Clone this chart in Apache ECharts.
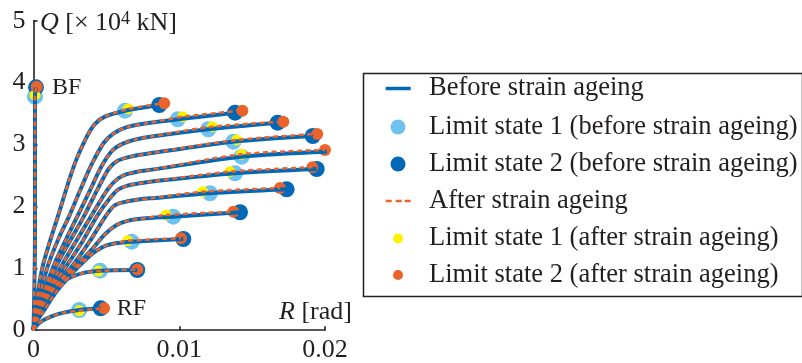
<!DOCTYPE html>
<html>
<head>
<meta charset="utf-8">
<script src="https://cdn.jsdelivr.net/npm/echarts@6/dist/echarts.min.js"></script>
<style>
  html, body { margin: 0; padding: 0; background: #fff; }
  #chart { width: 802px; height: 363px; }
</style>
</head>
<body>
<div id="chart"></div>
<script>
// R [rad] vs Q [x10^4 kN], frames from RF (bottom) to BF (top)
const curveBodies = [
  [[0, 0], [0.0002, 0.07], [0.0006, 0.15], [0.0012, 0.22], [0.002, 0.28]],
  [[0, 0], [0.00017, 0.19], [0.0006, 0.38], [0.0011, 0.58], [0.0018, 0.75], [0.0026, 0.86], [0.0035, 0.93]],
  [[0, 0], [0.0002, 0.14], [0.00067, 0.3], [0.0015, 0.6], [0.0025, 0.88], [0.0035, 1.12], [0.0043, 1.28], [0.005, 1.37], [0.0058, 1.41]],
  [[0, 0], [0.0002, 0.17], [0.001, 0.55], [0.0021, 0.85], [0.0031, 1.08], [0.0041, 1.33], [0.0049, 1.55], [0.0057, 1.7], [0.0065, 1.77], [0.0075, 1.805]],
  [[0, 0], [0.0002, 0.2], [0.0012, 0.62], [0.0027, 1.05], [0.0039, 1.45], [0.005, 1.86], [0.0056, 2.02], [0.0064, 2.08], [0.0072, 2.11], [0.008, 2.13]],
  [[0, 0], [0.0002, 0.22], [0.001, 0.6], [0.0023, 1.05], [0.0034, 1.45], [0.0044, 1.86], [0.0052, 2.12], [0.0058, 2.27], [0.0065, 2.34], [0.0072, 2.37], [0.008, 2.4]],
  [[0, 0], [0.0002, 0.25], [0.0009, 0.6], [0.00195, 1.05], [0.003, 1.47], [0.004, 1.86], [0.0051, 2.28], [0.0058, 2.45], [0.0064, 2.52], [0.0072, 2.565], [0.008, 2.59]],
  [[0, 0], [0.0002, 0.28], [0.0008, 0.6], [0.0016, 1.05], [0.0026, 1.48], [0.0035, 1.86], [0.0044, 2.28], [0.0052, 2.62], [0.0058, 2.74], [0.0066, 2.8], [0.008, 2.858]],
  [[0, 0], [0.0002, 0.3], [0.0007, 0.62], [0.0014, 1.05], [0.0022, 1.45], [0.00305, 1.86], [0.0039, 2.27], [0.00465, 2.64], [0.0054, 2.9], [0.0061, 3.01], [0.007, 3.08], [0.008, 3.126]],
  [[0, 0], [0.0002, 0.35], [0.0005, 0.62], [0.001, 1.05], [0.0017, 1.47], [0.00248, 1.86], [0.0032, 2.26], [0.00397, 2.67], [0.0048, 3.02], [0.0055, 3.18], [0.0064, 3.28], [0.008, 3.35]],
  [[0, 0], [0.0002, 0.45], [0.00065, 1.05], [0.0017, 1.86], [0.0028, 2.67], [0.0036, 3.1], [0.0042, 3.33], [0.0049, 3.45]],
  [[0, 0], [0.0001, 1.5], [0.0001, 3.0]]
];

const ls1Before = [[0.00314, 0.326], [0.00456, 0.961], [0.00674, 1.43], [0.00959, 1.834], [0.01211, 2.212], [0.01383, 2.535], [0.01428, 2.803], [0.01371, 3.045], [0.01199, 3.246], [0.00989, 3.407], [0.00628, 3.546], [0.0001, 3.772]];
const ls2Before = [[0.00461, 0.354], [0.00712, 0.973], [0.01028, 1.473], [0.01417, 1.905], [0.01737, 2.276], [0.01943, 2.604], [0.02012, 2.884], [0.01916, 3.137], [0.01675, 3.352], [0.01383, 3.514], [0.00863, 3.638], [0.00017, 3.924]];
const ls1After = [[0.00314, 0.315], [0.00445, 0.956], [0.00646, 1.446], [0.00909, 1.861], [0.01161, 2.237], [0.01348, 2.561], [0.01428, 2.842], [0.01394, 3.073], [0.01227, 3.288], [0.01024, 3.449], [0.0065, 3.574], [0.0001, 3.8]];
const ls2After = [[0.00484, 0.354], [0.00712, 0.98], [0.01012, 1.485], [0.01371, 1.914], [0.01691, 2.297], [0.01913, 2.632], [0.02, 2.911], [0.01947, 3.17], [0.01714, 3.368], [0.01433, 3.546], [0.00897, 3.666], [0.00022, 3.934]];

const xTicks = [0, 0.01, 0.02];
const yTicks = [0, 1, 2, 3, 4, 5];

const names = [
  'Before strain ageing',
  'Limit state 1 (before strain ageing)',
  'Limit state 2 (before strain ageing)',
  'After strain ageing',
  'Limit state 1 (after strain ageing)',
  'Limit state 2 (after strain ageing)'
];

const TEXT = '#231f20';
const BLUE = '#0068b7';
const LIGHT = '#6ec3ee';
const YELLOW = '#fff100';
const ORANGE = '#e9632a';
const FONT = '"Liberation Serif", "DejaVu Serif", serif';

const series = [];
curveBodies.forEach((body, i) => {
  series.push({
    type: 'line', name: names[0], data: body.concat([ls1Before[i], ls2Before[i]]),
    smooth: 0.3, symbol: 'none', silent: true,
    lineStyle: { color: BLUE, width: 4 }, itemStyle: { color: BLUE }
  });
});
curveBodies.forEach((body, i) => {
  series.push({
    type: 'line', name: names[3], data: body.concat([ls1After[i], ls2After[i]]),
    smooth: 0.3, symbol: 'none', silent: true,
    lineStyle: { color: ORANGE, width: 2.5, type: [5, 3.5] }, itemStyle: { color: ORANGE }
  });
});

const frameLabels = { 0: 'RF', 11: 'BF' };
series.push(
  { type: 'scatter', name: names[1], data: ls1Before, symbolSize: 16, itemStyle: { color: LIGHT, opacity: 1 } },
  {
    type: 'scatter', name: names[2], symbolSize: 16, itemStyle: { color: BLUE, opacity: 1 },
    data: ls2Before.map((p, i) => frameLabels[i]
      ? { value: p, label: { show: true, formatter: frameLabels[i], position: 'right', distance: 8, fontFamily: FONT, fontSize: 24, color: TEXT } }
      : p)
  },
  { type: 'scatter', name: names[4], data: ls1After, symbolSize: 11, itemStyle: { color: YELLOW, opacity: 1 } },
  { type: 'scatter', name: names[5], data: ls2After, symbolSize: 12, itemStyle: { color: ORANGE, opacity: 1 } }
);

// legend icons: solid / dashed bar for the curves, dots for the limit states
const legendRows = [88, 126.5, 163.5, 200.5, 238, 274.5];
const legendIcons = [
  'path://M0,0H25V3.5H0Z',
  'circle',
  'circle',
  'path://M0,0H6V2.4H0Z M10,0H16V2.4H10Z M19,0H25V2.4H19Z',
  'circle',
  'circle'
];
const legendDots = [0, 15, 15, 0, 10, 10];
const legend = names.map((n, i) => {
  const d = legendDots[i];
  const w = d ? d : 25;
  const left = d ? 398 - d / 2 : 385.7;
  const pad = 429 - (left + w + 5);
  return {
    data: [{ name: n, icon: legendIcons[i] }], orient: 'vertical', selectedMode: false, padding: 0,
    left: left, top: legendRows[i] - 13,
    itemWidth: w, itemHeight: d ? d : 14,
    itemStyle: { borderWidth: 0 },
    textStyle: { fontFamily: FONT, fontSize: 26.5, lineHeight: 26, color: TEXT, padding: [0, 0, 0, pad] }
  };
});

const axisCommon = {
  type: 'value',
  axisLine: { show: true, onZero: false, lineStyle: { color: TEXT, width: 1.6 } },
  axisTick: { show: true, inside: true, length: 4, lineStyle: { color: TEXT, width: 1.6 } },
  splitLine: { show: false },
  axisLabel: { fontFamily: FONT, fontSize: 26, color: TEXT }
};

const chart = echarts.init(document.getElementById('chart'), null, { renderer: 'canvas' });
chart.setOption({
  animation: false,
  backgroundColor: '#fff',
  grid: { left: 33.5, right: 477, top: 20.7, bottom: 32.8, containLabel: false, outerBoundsMode: 'none' },
  xAxis: Object.assign({}, axisCommon, {
    min: xTicks[0], max: xTicks[xTicks.length - 1], interval: xTicks[1] - xTicks[0],
    axisLabel: Object.assign({}, axisCommon.axisLabel, { margin: 7 })
  }),
  yAxis: Object.assign({}, axisCommon, {
    min: yTicks[0], max: yTicks[yTicks.length - 1], interval: yTicks[1] - yTicks[0],
    axisLabel: Object.assign({}, axisCommon.axisLabel, { margin: 8 })
  }),
  legend: legend,
  graphic: [
    { type: 'rect', left: 361, top: 71, silent: true, shape: { width: 439, height: 223 },
      style: { fill: 'none', stroke: TEXT, lineWidth: 1.5 } },
    { type: 'text', left: 40, top: 10, silent: true,
      style: {
        text: '{q|Q}{n| [× 10}{s|4}{n| kN]}', fill: TEXT,
        rich: {
          q: { fontFamily: FONT, fontSize: 26, fontStyle: 'italic', fill: TEXT, verticalAlign: 'bottom' },
          n: { fontFamily: FONT, fontSize: 26, fill: TEXT, verticalAlign: 'bottom' },
          s: { fontFamily: FONT, fontSize: 18, fill: TEXT, verticalAlign: 'top' }
        }
      } },
    { type: 'text', left: 279, top: 299, silent: true,
      style: {
        text: '{q|R}{n| [rad]}', fill: TEXT,
        rich: {
          q: { fontFamily: FONT, fontSize: 26, fontStyle: 'italic', fill: TEXT },
          n: { fontFamily: FONT, fontSize: 26, fill: TEXT }
        }
      } }
  ],
  series: series
});
</script>
</body>
</html>
